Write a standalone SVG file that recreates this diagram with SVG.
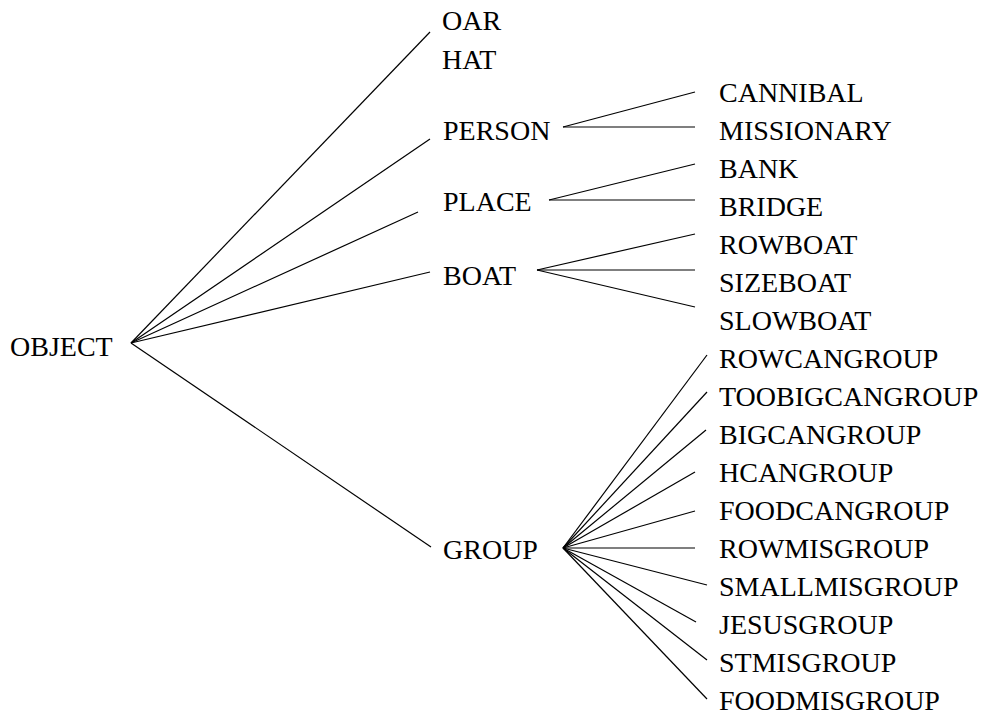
<svg xmlns="http://www.w3.org/2000/svg" width="988" height="715" viewBox="0 0 988 715">
<style>
text{font-family:"Liberation Serif","Times New Roman",serif;font-size:28px;fill:#000}
.c line{stroke:#000;stroke-width:1.2;fill:none}
</style>
<rect width="988" height="715" fill="#fff"/>
<g class="c" id="connectors">
<line x1="131" y1="343" x2="430" y2="32"/>
<line x1="131" y1="343" x2="430" y2="139"/>
<line x1="131" y1="343" x2="418" y2="212"/>
<line x1="131" y1="343" x2="430" y2="272"/>
<line x1="131" y1="343" x2="431" y2="547"/>
<line x1="563" y1="127" x2="695" y2="92"/>
<line x1="563" y1="127" x2="695" y2="127"/>
<line x1="549" y1="200" x2="695" y2="164"/>
<line x1="549" y1="200" x2="695" y2="200"/>
<line x1="537" y1="270" x2="695" y2="234"/>
<line x1="537" y1="270" x2="695" y2="270"/>
<line x1="537" y1="270" x2="695" y2="307"/>
<line x1="563" y1="548" x2="707" y2="355"/>
<line x1="563" y1="548" x2="707" y2="392"/>
<line x1="563" y1="548" x2="706" y2="430"/>
<line x1="563" y1="548" x2="695" y2="472"/>
<line x1="563" y1="548" x2="695" y2="511"/>
<line x1="563" y1="548" x2="695" y2="548"/>
<line x1="563" y1="548" x2="707" y2="585"/>
<line x1="563" y1="548" x2="696" y2="622"/>
<line x1="563" y1="548" x2="707" y2="660"/>
<line x1="563" y1="548" x2="707" y2="699"/>
</g>
<g id="object"><text x="10" y="356">OBJECT</text></g>
<g id="oar"><text x="442" y="30">OAR</text></g>
<g id="hat"><text x="442" y="69">HAT</text></g>
<g id="person"><text x="443" y="140">PERSON</text></g>
<g id="place"><text x="443" y="211">PLACE</text></g>
<g id="boat"><text x="443" y="285">BOAT</text></g>
<g id="group"><text x="443" y="559">GROUP</text></g>
<g id="cannibal"><text x="719" y="102">CANNIBAL</text></g>
<g id="missionary"><text x="719" y="140">MISSIONARY</text></g>
<g id="bank"><text x="719" y="178">BANK</text></g>
<g id="bridge"><text x="719" y="216">BRIDGE</text></g>
<g id="rowboat"><text x="719" y="254">ROWBOAT</text></g>
<g id="sizeboat"><text x="719" y="292">SIZEBOAT</text></g>
<g id="slowboat"><text x="719" y="330">SLOWBOAT</text></g>
<g id="rowcangroup"><text x="719" y="368">ROWCANGROUP</text></g>
<g id="toobigcangroup"><text x="719" y="406">TOOBIGCANGROUP</text></g>
<g id="bigcangroup"><text x="719" y="444">BIGCANGROUP</text></g>
<g id="hcangroup"><text x="719" y="482">HCANGROUP</text></g>
<g id="foodcangroup"><text x="719" y="520">FOODCANGROUP</text></g>
<g id="rowmisgroup"><text x="719" y="558">ROWMISGROUP</text></g>
<g id="smallmisgroup"><text x="719" y="596">SMALLMISGROUP</text></g>
<g id="jesusgroup"><text x="719" y="634">JESUSGROUP</text></g>
<g id="stmisgroup"><text x="719" y="672">STMISGROUP</text></g>
<g id="foodmisgroup"><text x="719" y="710">FOODMISGROUP</text></g>
</svg>
